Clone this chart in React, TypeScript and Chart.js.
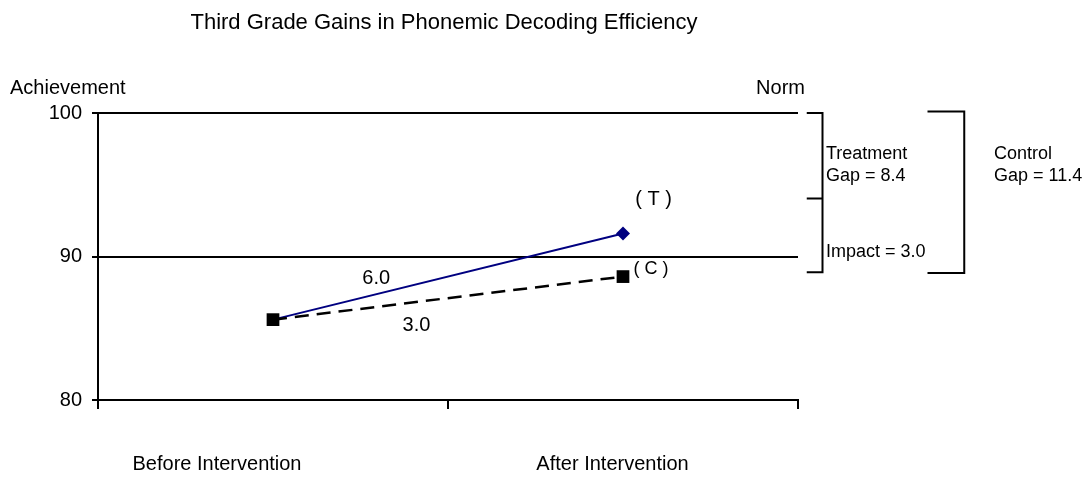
import React, { useEffect, useRef } from "react";
import { Chart, registerables } from "chart.js";

Chart.register(...registerables);

const TITLE = "Third Grade Gains in Phonemic Decoding Efficiency";
const Y_TITLE = "Achievement";
const NORM_LABEL = "Norm";
const CATEGORIES = ["Before Intervention", "After Intervention"];
const X_POSITIONS = [1, 3];
const TREATMENT = [85.6, 91.6];
const CONTROL = [85.6, 88.6];
const Y_TICKS = [80, 90, 100];
const GAIN_LABELS = ["6.0", "3.0"];
const SERIES_TAGS = ["( T )", "( C )"];
const TREATMENT_NOTE = ["Treatment", "Gap = 8.4"];
const IMPACT_NOTE = "Impact = 3.0";
const CONTROL_NOTE = ["Control", "Gap = 11.4"];

const FONT = "'Liberation Sans', Arial, sans-serif";

const annotations = {
  id: "annotations",
  afterDraw(chart: any) {
    const { ctx, chartArea } = chart;
    const xs = chart.scales.x;
    const ys = chart.scales.y;
    const px = (v: number) => xs.getPixelForValue(v);
    const py = (v: number) => ys.getPixelForValue(v);
    ctx.save();
    ctx.fillStyle = "#000";
    ctx.strokeStyle = "#000";
    ctx.textBaseline = "middle";

    // title
    ctx.font = `22px ${FONT}`;
    ctx.textAlign = "center";
    ctx.fillText(TITLE, (chartArea.left + chartArea.right) / 2 - 4, 15);

    // axis captions
    ctx.font = `20px ${FONT}`;
    ctx.textAlign = "left";
    ctx.fillText(Y_TITLE, 2, 80);
    ctx.textAlign = "right";
    ctx.fillText(NORM_LABEL, chartArea.right + 7, 80);

    // category labels
    ctx.textAlign = "center";
    ctx.fillText(CATEGORIES[0], px(0.68), 456);
    ctx.fillText(CATEGORIES[1], px(2.94), 456);

    // gain labels
    ctx.fillText(GAIN_LABELS[0], px(1.59), py(88.5));
    ctx.fillText(GAIN_LABELS[1], px(1.82), py(85.2));

    // series tags
    ctx.textAlign = "left";
    ctx.fillText(SERIES_TAGS[0], px(3.07), py(94.0));
    ctx.font = `18px ${FONT}`;
    ctx.fillText(SERIES_TAGS[1], px(3.06), py(89.1));

    // brackets
    ctx.lineWidth = 2;
    const tL = px(4.05), tR = px(4.14);
    ctx.beginPath();
    ctx.moveTo(tL, py(100));
    ctx.lineTo(tR, py(100));
    ctx.lineTo(tR, py(88.9));
    ctx.lineTo(tL, py(88.9));
    ctx.moveTo(tL, py(94.05));
    ctx.lineTo(tR, py(94.05));
    ctx.stroke();

    const cL = px(4.74), cR = px(4.95);
    ctx.beginPath();
    ctx.moveTo(cL, py(100.1));
    ctx.lineTo(cR, py(100.1));
    ctx.lineTo(cR, py(88.85));
    ctx.lineTo(cL, py(88.85));
    ctx.stroke();

    ctx.font = `18px ${FONT}`;
    ctx.textAlign = "left";
    ctx.fillText(TREATMENT_NOTE[0], px(4.16), py(97.15));
    ctx.fillText(TREATMENT_NOTE[1], px(4.16), py(95.6));
    ctx.fillText(IMPACT_NOTE, px(4.16), py(90.3));
    ctx.fillText(CONTROL_NOTE[0], px(5.12), py(97.15));
    ctx.fillText(CONTROL_NOTE[1], px(5.12), py(95.6));
    ctx.restore();
  },
};

export default function App() {
  const ref = useRef<HTMLCanvasElement>(null);
  useEffect(() => {
    if (!ref.current) return;
    const chart = new Chart(ref.current, {
      type: "line",
      data: {
        datasets: [
          {
            label: "Control",
            data: X_POSITIONS.map((x, i) => ({ x, y: CONTROL[i] })),
            borderColor: "#000",
            backgroundColor: "#000",
            borderWidth: 2.5,
            borderDash: [14, 8],
            pointStyle: "rect",
            pointRadius: 9,
            pointBorderWidth: 0,
            tension: 0,
          },
          {
            label: "Treatment",
            data: X_POSITIONS.map((x, i) => ({ x, y: TREATMENT[i] })),
            borderColor: "#000080",
            backgroundColor: "#000080",
            borderWidth: 2,
            pointStyle: "rectRot",
            pointRadius: [0, 7],
            pointBorderWidth: 0,
            tension: 0,
          },
        ],
      },
      options: {
        animation: false,
        responsive: true,
        maintainAspectRatio: false,
        layout: { padding: { left: 0, right: 286, top: 105, bottom: 0 } },
        plugins: {
          legend: { display: false },
          title: { display: false },
          tooltip: { enabled: false },
        },
        scales: {
          x: {
            type: "linear",
            min: 0,
            max: 4,
            ticks: { display: false, stepSize: 2 },
            grid: { drawOnChartArea: false, drawTicks: true, tickLength: 9, color: "#000", lineWidth: 2 },
            border: { display: true, color: "#000", width: 2 },
            afterFit: (s: any) => {
              s.height = 80;
            },
          },
          y: {
            min: 80,
            max: 100,
            afterBuildTicks: (s: any) => {
              s.ticks = Y_TICKS.map((v) => ({ value: v }));
            },
            ticks: { color: "#000", font: { family: FONT, size: 20 }, padding: 10 },
            grid: { color: "#000", lineWidth: 2, tickLength: 6 },
            border: { display: true, color: "#000", width: 2 },
            afterFit: (s: any) => {
              s.width = 90;
            },
          },
        },
      },
      plugins: [annotations],
    });
    return () => chart.destroy();
  }, []);
  return (
    <div style={{ width: 1076, height: 472, position: "relative" }}>
      <canvas ref={ref} />
    </div>
  );
}
